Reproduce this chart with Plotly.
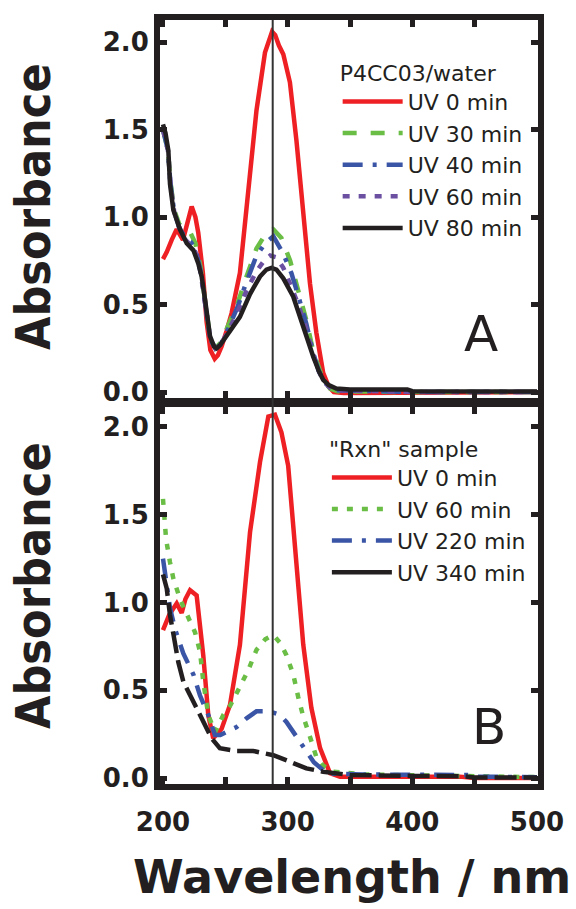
import plotly.graph_objects as go

# ---------------- data ----------------
# Panel A: P4CC03/water
a_uv0_x = [200, 203, 207, 211, 216, 219, 223, 226, 228.3, 232, 235, 238, 241.5, 244, 247, 251, 255, 261.7, 268.4, 275, 281.8, 285, 287.5, 290, 293, 296.5, 301.8, 307, 312.5, 317.9, 323, 328.5, 333, 337, 345, 360, 400, 450, 500]
a_uv0_y = [0.76, 0.80, 0.87, 0.93, 0.87, 0.95, 1.06, 1.00, 0.91, 0.68, 0.40, 0.24, 0.19, 0.21, 0.26, 0.35, 0.45, 0.68, 1.15, 1.61, 1.94, 2.02, 2.06, 2.04, 1.98, 1.93, 1.77, 1.44, 1.02, 0.62, 0.34, 0.11, 0.03, 0.0, -0.005, -0.005, 0.0, 0.0, 0.0]

a_uv30_x = [200, 204, 206, 209, 213, 218, 222, 226, 230, 234, 238, 242, 246, 251, 256, 260, 267, 275, 282, 288.5, 295, 302, 308.5, 315, 320.6, 325, 328.5, 334, 340, 400, 450, 500]
a_uv30_y = [1.50, 1.38, 1.20, 1.04, 0.96, 0.92, 0.91, 0.85, 0.72, 0.50, 0.30, 0.25, 0.28, 0.36, 0.44, 0.51, 0.66, 0.82, 0.90, 0.93, 0.88, 0.75, 0.58, 0.41, 0.23, 0.13, 0.07, 0.02, 0.005, 0.0, 0.0, 0.0]

a_uv40_x = [200, 204, 206, 209, 213, 218, 222, 226, 230, 234, 238, 242, 246, 251, 256, 260, 267, 275, 282, 288.5, 296.5, 303, 308.5, 315, 320.6, 325, 328.5, 334, 340, 400, 450, 500]
a_uv40_y = [1.50, 1.38, 1.19, 1.03, 0.94, 0.88, 0.86, 0.82, 0.70, 0.50, 0.30, 0.25, 0.27, 0.34, 0.42, 0.49, 0.63, 0.78, 0.85, 0.89, 0.79, 0.68, 0.55, 0.39, 0.22, 0.12, 0.065, 0.025, 0.01, 0.0, 0.0, 0.0]

a_uv60_x = [200, 204, 206, 209, 213, 218, 222, 226, 230, 234, 238, 242, 246, 251, 256, 260, 267, 275, 281, 286, 291, 296.5, 303, 308.5, 315, 320.6, 325, 328.5, 334, 340, 400, 450, 500]
a_uv60_y = [1.50, 1.38, 1.19, 1.03, 0.94, 0.87, 0.84, 0.80, 0.69, 0.50, 0.30, 0.25, 0.27, 0.33, 0.40, 0.46, 0.58, 0.69, 0.75, 0.78, 0.77, 0.71, 0.60, 0.50, 0.36, 0.21, 0.12, 0.065, 0.025, 0.01, 0.0, 0.0, 0.0]

a_uv80_x = [200, 202, 204.3, 205.6, 208.3, 211, 213.6, 219, 224.4, 228.3, 231, 233.7, 237.7, 241, 243, 246, 251, 256, 261.7, 269.8, 277.8, 283, 287, 291, 296.5, 304.5, 312.5, 320.6, 325, 328.5, 333, 339, 350, 396, 400, 450, 500]
a_uv80_y = [1.53, 1.48, 1.38, 1.19, 1.04, 0.98, 0.93, 0.85, 0.81, 0.735, 0.66, 0.53, 0.32, 0.26, 0.25, 0.27, 0.32, 0.38, 0.43, 0.56, 0.66, 0.70, 0.71, 0.70, 0.65, 0.545, 0.37, 0.20, 0.12, 0.07, 0.04, 0.02, 0.015, 0.015, 0.005, 0.003, 0.003]

# Panel B: "Rxn" sample
b_uv0_x = [200, 205, 211, 215, 218, 221.7, 227, 232.3, 236.3, 240.3, 247, 253.7, 261.7, 269.8, 277.8, 284.5, 289.8, 295, 300.4, 307, 312.5, 319, 326, 334, 342, 438, 450, 500]
b_uv0_y = [0.843, 0.93, 0.995, 0.94, 1.02, 1.07, 1.04, 0.70, 0.36, 0.227, 0.28, 0.416, 0.758, 1.40, 1.80, 2.06, 2.07, 1.97, 1.78, 1.23, 0.76, 0.40, 0.17, 0.027, 0.008, 0.008, 0.0, 0.0]

b_uv60_x = [200, 201.5, 202.5, 205.6, 208.2, 213.6, 219, 225.7, 229.7, 232.3, 236.3, 241.7, 248.4, 253.7, 261.7, 268.4, 275, 282, 288.5, 294, 299, 304.5, 308.5, 312.5, 317.9, 323, 328.5, 336.6, 363, 440, 450, 500]
b_uv60_y = [1.59, 1.48, 1.36, 1.23, 1.14, 1.02, 0.93, 0.83, 0.72, 0.55, 0.36, 0.26, 0.36, 0.41, 0.52, 0.615, 0.73, 0.79, 0.815, 0.77, 0.70, 0.59, 0.46, 0.35, 0.235, 0.12, 0.07, 0.036, 0.02, 0.015, 0.01, 0.005]

b_uv220_x = [200, 203, 205.6, 209.6, 216.3, 224.4, 229.7, 236.3, 241.7, 246, 251, 259, 267, 275, 285, 293.8, 299, 304.5, 310, 315, 321, 328.5, 336, 360, 446, 452, 500]
b_uv220_y = [1.25, 1.12, 0.97, 0.85, 0.71, 0.59, 0.47, 0.36, 0.245, 0.245, 0.26, 0.29, 0.34, 0.38, 0.38, 0.36, 0.32, 0.264, 0.20, 0.15, 0.09, 0.045, 0.025, 0.02, 0.017, 0.008, 0.005]

b_uv340_x = [200, 203, 205.6, 209.6, 212.3, 216.3, 224.4, 232.3, 239, 245.6, 259, 272.4, 288.5, 301.8, 315, 328.5, 350, 400, 440, 450, 500]
b_uv340_y = [1.16, 1.08, 0.93, 0.76, 0.66, 0.55, 0.435, 0.32, 0.226, 0.17, 0.154, 0.154, 0.13, 0.093, 0.055, 0.036, 0.017, 0.012, 0.01, 0.003, 0.003]

x_tick_vals = [200, 250, 300, 350, 400, 450, 500]
x_tick_text = ["200", "", "300", "", "400", "", "500"]
y_tick_vals = [0.0, 0.5, 1.0, 1.5, 2.0]
y_tick_text = ["0.0", "0.5", "1.0", "1.5", "2.0"]
marker_wavelength = 288

# ---------------- style ----------------
RED = "#EE2024"
GREEN = "#6ABD45"
BLUE = "#3A55A5"
PURPLE = "#6B4FA1"
BLACK = "#231F20"
TXT = "#231F20"
LW = 4.5

fig = go.Figure()

def add(x, y, name, color, dash, xa, ya, legend, showlegend=True):
    fig.add_trace(go.Scatter(x=x, y=y, mode="lines", name=name,
                             line=dict(color=color, width=LW, dash=dash),
                             xaxis=xa, yaxis=ya, legend=legend,
                             showlegend=showlegend))

add(a_uv0_x, a_uv0_y, "UV 0 min", RED, "solid", "x", "y", "legend")
add(a_uv30_x, a_uv30_y, "UV 30 min", GREEN, "14px,14px", "x", "y", "legend")
add(a_uv40_x, a_uv40_y, "UV 40 min", BLUE, "20px,10px,4px,10px", "x", "y", "legend")
add(a_uv60_x, a_uv60_y, "UV 60 min", PURPLE, "7px,9px", "x", "y", "legend")
add(a_uv80_x, a_uv80_y, "UV 80 min", BLACK, "solid", "x", "y", "legend")

add(b_uv0_x, b_uv0_y, "UV 0 min", RED, "solid", "x2", "y2", "legend2")
add(b_uv60_x, b_uv60_y, "UV 60 min", GREEN, "6px,9px", "x2", "y2", "legend2")
add(b_uv220_x, b_uv220_y, "UV 220 min", BLUE, "20px,10px,4px,10px", "x2", "y2", "legend2")
add(b_uv340_x, b_uv340_y, "UV 340 min", BLACK, "22px,7px", "x2", "y2", "legend2", showlegend=False)
# legend entry for the UV 340 min curve (solid sample, as in the original)
fig.add_trace(go.Scatter(x=[None], y=[None], mode="lines", name="UV 340 min",
                         line=dict(color=BLACK, width=LW), xaxis="x2", yaxis="y2",
                         legend="legend2"))

tickfont = dict(family="DejaVu Sans", size=26, color=TXT, weight="bold")
xcommon = dict(range=[197.6, 500.8], tickvals=x_tick_vals, ticktext=x_tick_text,
               ticks="inside", ticklen=7, tickwidth=5, tickcolor=BLACK,
               showline=True, linewidth=6, linecolor=BLACK, mirror="allticks",
               showgrid=False, zeroline=False, tickfont=tickfont)
ycommon = dict(tickvals=y_tick_vals, ticktext=y_tick_text,
               ticks="inside", ticklen=7, tickwidth=5, tickcolor=BLACK,
               showline=True, linewidth=6, linecolor=BLACK, mirror="allticks",
               showgrid=False, zeroline=False, tickfont=tickfont)

legfont = dict(family="DejaVu Sans", size=22, color=TXT)

fig.update_layout(
    width=576, height=909,
    margin=dict(l=160, r=38, t=20, b=125),
    paper_bgcolor="white", plot_bgcolor="white",
    xaxis=dict(domain=[0, 1], anchor="y", showticklabels=False, **xcommon),
    yaxis=dict(domain=[0.5052, 1], anchor="x", range=[-0.034, 2.126], **ycommon),
    xaxis2=dict(domain=[0, 1], anchor="y2", showticklabels=True, ticklabelstandoff=10, **xcommon),
    yaxis2=dict(domain=[0, 0.4935], anchor="x2", range=[-0.034, 2.114], **ycommon),
    legend=dict(x=0.47, y=0.958, xanchor="left", yanchor="top", bgcolor="rgba(0,0,0,0)",
                font=legfont, title=dict(text="P4CC03/water", font=legfont),
                itemwidth=60, tracegroupgap=0, traceorder="normal"),
    legend2=dict(x=0.4415, y=0.466, xanchor="left", yanchor="top", bgcolor="rgba(0,0,0,0)",
                 font=legfont, title=dict(text="\"Rxn\" sample", font=legfont),
                 itemwidth=60, tracegroupgap=0, traceorder="normal"),
    showlegend=True,
)

fig.add_shape(type="line", xref="x", yref="paper", x0=marker_wavelength, x1=marker_wavelength,
              y0=0, y1=1, line=dict(color="#333333", width=2), layer="above")

titlefont = dict(family="DejaVu Sans Condensed, DejaVu Sans", size=48, color=TXT, weight="bold")
fig.add_annotation(text="Absorbance", xref="paper", yref="paper", x=-0.336, y=0.7565,
                   textangle=-90, showarrow=False, font=titlefont, xanchor="center", yanchor="middle")
fig.add_annotation(text="Absorbance", xref="paper", yref="paper", x=-0.336, y=0.2605,
                   textangle=-90, showarrow=False, font=titlefont, xanchor="center", yanchor="middle")
fig.add_annotation(text="Wavelength / nm", xref="paper", yref="paper", x=0.508, y=-0.1217,
                   showarrow=False, font=dict(family="DejaVu Sans", size=46, color=TXT, weight="bold"),
                   xanchor="center", yanchor="middle")
fig.add_annotation(text="A", xref="paper", yref="paper", x=0.849, y=0.589, showarrow=False,
                   font=dict(family="DejaVu Sans", size=50, color=TXT), xanchor="center", yanchor="middle")
fig.add_annotation(text="B", xref="paper", yref="paper", x=0.870, y=0.0746, showarrow=False,
                   font=dict(family="DejaVu Sans", size=50, color=TXT), xanchor="center", yanchor="middle")

fig.write_html("out.html")
